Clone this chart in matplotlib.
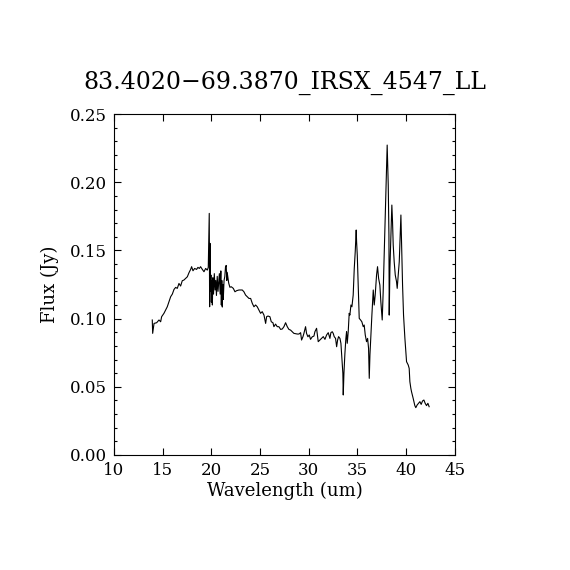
import numpy as np
import matplotlib.pyplot as plt
from matplotlib.ticker import MultipleLocator

# spectrum (wavelength in um, flux in Jy)
wave = [13.93, 13.97, 14.11, 14.38, 14.62, 14.79, 14.89, 15.13, 15.30, 15.47,
        15.64, 15.82, 15.99, 16.16, 16.33, 16.50, 16.67, 16.84, 17.01, 17.18,
        17.36, 17.53, 17.70, 17.87, 17.97, 18.11, 18.28, 18.48, 18.62, 18.76,
        18.89, 19.07, 19.24, 19.41, 19.58, 19.68, 19.78, 19.82, 19.86, 19.90,
        19.95, 20.00, 20.05, 20.10, 20.15, 20.22, 20.30, 20.38, 20.45, 20.52,
        20.60, 20.68, 20.75, 20.82, 20.90, 20.97, 21.02, 21.07, 21.12, 21.17,
        21.22, 21.30, 21.38, 21.45, 21.52, 21.58, 21.62, 21.70, 21.78, 21.90,
        22.04, 22.25, 22.42, 22.59, 22.83, 23.17, 23.34, 23.51, 23.68, 23.86,
        24.03, 24.20, 24.37, 24.54, 24.71, 24.88, 25.05, 25.22, 25.40, 25.57,
        25.67, 25.81, 26.01, 26.15, 26.32, 26.42, 26.59, 26.76, 26.93, 27.11,
        27.28, 27.45, 27.62, 27.79, 27.96, 28.13, 28.47, 28.82, 28.99, 29.16,
        29.26, 29.40, 29.50, 29.67, 29.77, 29.91, 30.05, 30.18, 30.36, 30.53,
        30.63, 30.80, 30.97, 31.14, 31.32, 31.49, 31.66, 31.83, 32.00, 32.17,
        32.27, 32.41, 32.51, 32.61, 32.75, 32.86, 32.96, 33.06, 33.20, 33.30,
        33.40, 33.50, 33.54, 33.61, 33.71, 33.81, 33.88, 33.95, 34.05, 34.15,
        34.22, 34.33, 34.43, 34.56, 34.67, 34.77, 34.87, 34.91, 34.98, 35.08,
        35.18, 35.32, 35.45, 35.59, 35.69, 35.80, 35.93, 36.04, 36.14, 36.21,
        36.28, 36.38, 36.48, 36.62, 36.72, 36.82, 36.96, 37.06, 37.17, 37.30,
        37.40, 37.54, 37.64, 37.75, 37.85, 37.99, 38.05, 38.16, 38.23, 38.26,
        38.33, 38.43, 38.53, 38.60, 38.67, 38.77, 38.88, 39.01, 39.08, 39.18,
        39.29, 39.39, 39.46, 39.56, 39.63, 39.73, 39.87, 40.04, 40.21, 40.31,
        40.38, 40.48, 40.55, 40.72, 40.89, 40.99, 41.13, 41.27, 41.41, 41.54,
        41.68, 41.82, 41.95, 42.09, 42.23, 42.36]

flux = [0.0990, 0.0892, 0.0965, 0.0970, 0.0990, 0.0977, 0.1014, 0.1039, 0.1063, 0.1087,
        0.1124, 0.1161, 0.1180, 0.1214, 0.1229, 0.1222, 0.1258, 0.1239, 0.1278, 0.1283,
        0.1295, 0.1307, 0.1337, 0.1361, 0.1381, 0.1351, 0.1368, 0.1361, 0.1376, 0.1368,
        0.1381, 0.1361, 0.1344, 0.1368, 0.1356, 0.1376, 0.1772, 0.1087, 0.1552, 0.1200,
        0.1320, 0.1120, 0.1280, 0.1100, 0.1300, 0.1180, 0.1330, 0.1210, 0.1280, 0.1170,
        0.1310, 0.1200, 0.1270, 0.1330, 0.1180, 0.1350, 0.1100, 0.1280, 0.1085, 0.1250,
        0.1140, 0.1280, 0.1310, 0.1380, 0.1390, 0.1280, 0.1340, 0.1300, 0.1260, 0.1230,
        0.1234, 0.1222, 0.1197, 0.1205, 0.1210, 0.1210, 0.1197, 0.1173, 0.1161, 0.1148,
        0.1148, 0.1112, 0.1087, 0.1100, 0.1087, 0.1063, 0.1039, 0.1051, 0.1026, 0.0965,
        0.1014, 0.1019, 0.1014, 0.0977, 0.0970, 0.0941, 0.0960, 0.0941, 0.0941, 0.0921,
        0.0924, 0.0941, 0.0970, 0.0941, 0.0921, 0.0916, 0.0892, 0.0887, 0.0887, 0.0897,
        0.0843, 0.0867, 0.0892, 0.0941, 0.0892, 0.0867, 0.0880, 0.0848, 0.0867, 0.0872,
        0.0904, 0.0929, 0.0831, 0.0843, 0.0855, 0.0868, 0.0848, 0.0880, 0.0897, 0.0855,
        0.0897, 0.0904, 0.0892, 0.0868, 0.0855, 0.0794, 0.0843, 0.0868, 0.0855, 0.0819,
        0.0709, 0.0599, 0.0440, 0.0599, 0.0745, 0.0855, 0.0904, 0.0819, 0.0904, 0.1039,
        0.1026, 0.1100, 0.1087, 0.1173, 0.1368, 0.1491, 0.1650, 0.1564, 0.1466, 0.1246,
        0.1002, 0.0990, 0.0977, 0.0941, 0.0953, 0.0880, 0.0831, 0.0855, 0.0782, 0.0562,
        0.0733, 0.0880, 0.1026, 0.1210, 0.1100, 0.1173, 0.1320, 0.1381, 0.1295, 0.1246,
        0.1124, 0.0990, 0.1197, 0.1491, 0.1784, 0.2102, 0.2273, 0.1980, 0.1613, 0.1026,
        0.1368, 0.1613, 0.1833, 0.1711, 0.1540, 0.1417, 0.1320, 0.1271, 0.1222, 0.1320,
        0.1417, 0.1613, 0.1760, 0.1466, 0.1246, 0.1026, 0.0855, 0.0684, 0.0660, 0.0635,
        0.0538, 0.0489, 0.0464, 0.0415, 0.0362, 0.0347, 0.0367, 0.0379, 0.0391, 0.0371,
        0.0396, 0.0403, 0.0379, 0.0362, 0.0379, 0.0354]

title = '83.4020\u221269.3870_IRSX_4547_LL'

plt.rcParams['font.family'] = ['DejaVu Serif']

fig = plt.figure(figsize=(5.7, 5.7), dpi=100)
ax = fig.add_axes([0.2, 0.2018, 0.598, 0.598])
ax.plot(wave, flux, color='black', linewidth=0.8)

ax.set_xlim(10, 45)
ax.set_ylim(0, 0.25)
ax.xaxis.set_major_locator(MultipleLocator(5))
ax.yaxis.set_major_locator(MultipleLocator(0.05))
ax.yaxis.set_minor_locator(MultipleLocator(0.01))
ax.yaxis.set_major_formatter(plt.FuncFormatter(lambda v, p: f'{v:.2f}'))
ax.tick_params(which='both', direction='in', top=True, right=True,
               labelsize=12, width=0.8, pad=5)
ax.tick_params(which='major', length=5)
ax.tick_params(which='minor', length=2.5)
for s in ax.spines.values():
    s.set_linewidth(0.8)

ax.set_xlabel('Wavelength (um)', fontsize=13, labelpad=2)
ax.set_ylabel('Flux (Jy)', fontsize=13, labelpad=8)
ax.set_title(title, fontsize=17, pad=18)

fig.savefig('out.png', dpi=100)
